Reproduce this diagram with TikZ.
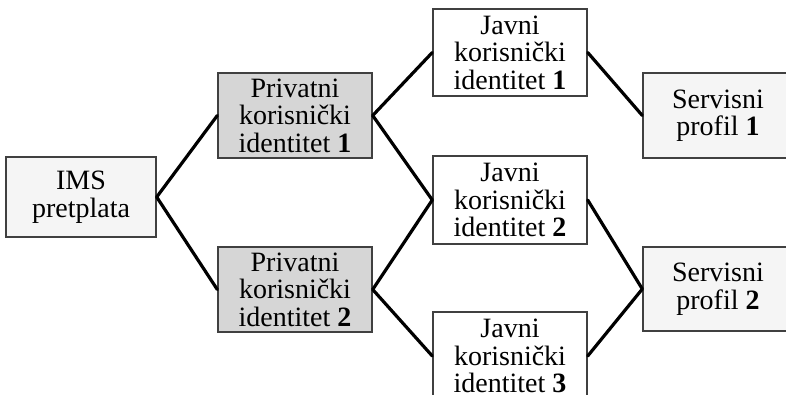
\documentclass[tikz,border=0pt]{standalone}
\usepackage{fontspec}
\setmainfont{Liberation Serif}
\begin{document}
\begin{tikzpicture}[x=1bp,y=-1bp,
  box/.style={draw=black!75, line width=1.4bp, inner sep=0pt, align=center,
    font=\fontsize{28bp}{27.5bp}\selectfont},
  light/.style={box, fill=black!4},
  dark/.style={box, fill=black!16},
  plain/.style={box, fill=white},
  link/.style={line width=3.2bp, line cap=round, black}]
\useasboundingbox (0,0) rectangle (786,394);
\clip (0,0) rectangle (786,394);

% subscription and private identities
\node[light, minimum width=150bp, minimum height=80bp] (ims) at (81,197) {IMS\\pretplata};
\node[dark, minimum width=154bp, minimum height=85bp] (priv1) at (295,115.5) {Privatni\\korisnički\\identitet \textbf{1}};
\node[dark, minimum width=154bp, minimum height=85bp] (priv2) at (295,289.5) {Privatni\\korisnički\\identitet \textbf{2}};

% public identities
\node[plain, minimum width=154bp, minimum height=87bp] (pub1) at (510,52.5) {Javni\\korisnički\\identitet \textbf{1}};
\node[plain, minimum width=154bp, minimum height=88bp] (pub2) at (510,200) {Javni\\korisnički\\identitet \textbf{2}};
\node[plain, minimum width=154bp, minimum height=88bp] (pub3) at (510,356) {Javni\\korisnički\\identitet \textbf{3}};

% service profiles
\node[light, minimum width=150bp, minimum height=85bp] (srv1) at (718,115.5) {Servisni\\profil \textbf{1}};
\node[light, minimum width=150bp, minimum height=84bp] (srv2) at (718,289) {Servisni\\profil \textbf{2}};

% relations
\draw[link] (ims.east) -- (priv1.west);
\draw[link] (ims.east) -- (priv2.west);
\draw[link] (priv1.east) -- (pub1.west);
\draw[link] (priv1.east) -- (pub2.west);
\draw[link] (priv2.east) -- (pub2.west);
\draw[link] (priv2.east) -- (pub3.west);
\draw[link] (pub1.east) -- (srv1.west);
\draw[link] (pub2.east) -- (srv2.west);
\draw[link] (pub3.east) -- (srv2.west);
\end{tikzpicture}
\end{document}
